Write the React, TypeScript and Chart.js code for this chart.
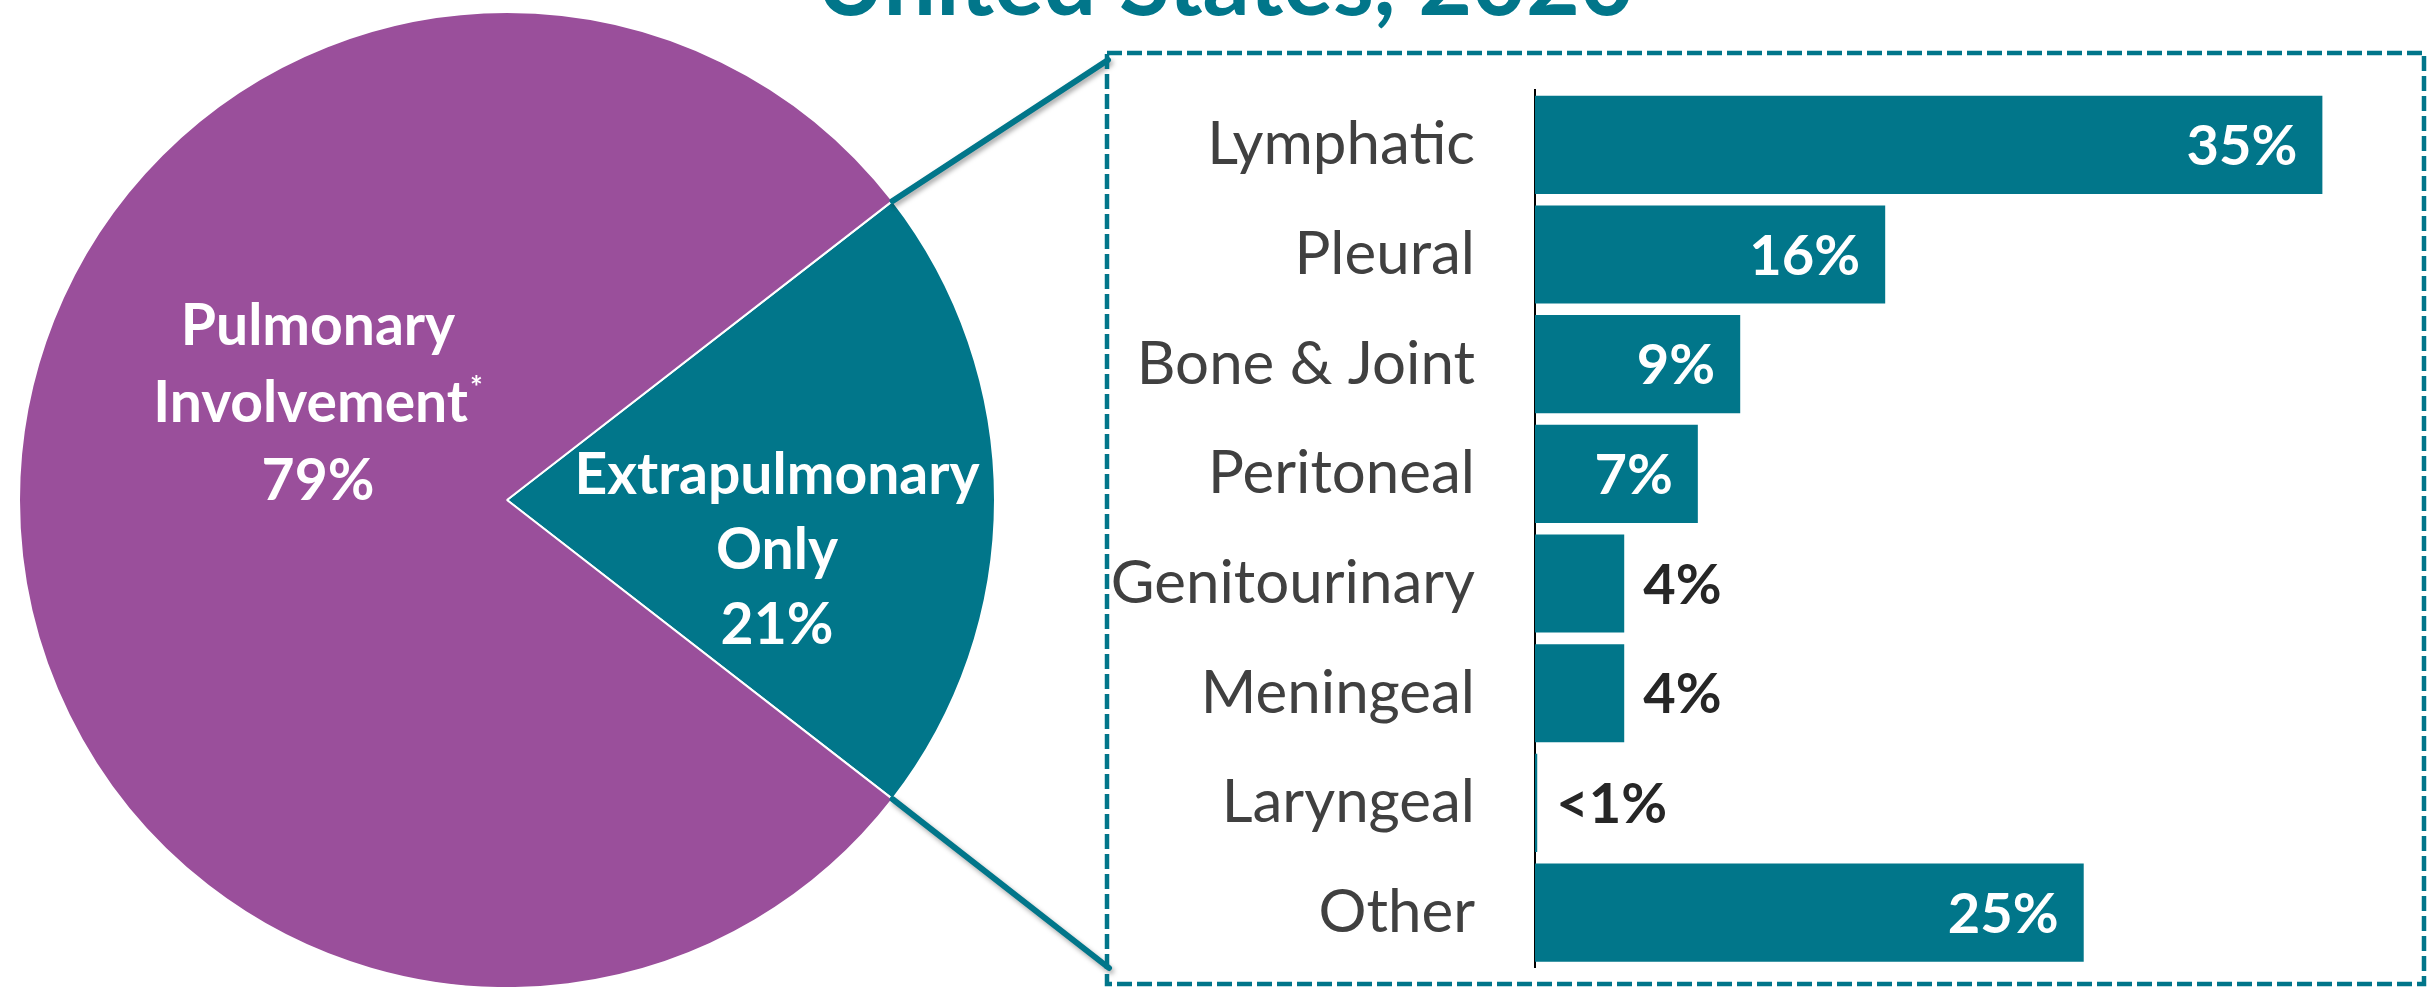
import React, { useEffect, useRef } from "react";
import { Chart, registerables } from "chart.js";

Chart.register(...registerables);

const FONT = "Lato, 'Open Sans', sans-serif";
const TEAL = "#01768A";
const PURPLE = "#9A4F9B";

const titleText = "United States, 2020";

const pieLabels = ["Extrapulmonary Only", "Pulmonary Involvement"];
const pieValues = [21, 79];
const pieColors = [TEAL, PURPLE];

const siteCategories = [
  "Lymphatic",
  "Pleural",
  "Bone & Joint",
  "Peritoneal",
  "Genitourinary",
  "Meningeal",
  "Laryngeal",
  "Other",
];
const siteValues = [35.3, 15.7, 9.2, 7.3, 4.0, 4.0, 0.1, 24.6];
const siteValueLabels = ["35%", "16%", "9%", "7%", "4%", "4%", "<1%", "25%"];

const W = 2427;
const H = 987;

const piePlugin = {
  id: "pieExtras",
  afterDatasetsDraw(chart: any) {
    const ctx = chart.ctx as CanvasRenderingContext2D;
    const meta = chart.getDatasetMeta(0);
    const arc = meta.data[0];
    const { x, y, startAngle, endAngle, outerRadius } = arc.getProps(
      ["x", "y", "startAngle", "endAngle", "outerRadius"],
      true
    );

    // slice labels
    ctx.save();
    ctx.fillStyle = "#ffffff";
    ctx.textBaseline = "alphabetic";
    ctx.font = `bold 57px ${FONT}`;
    ctx.textAlign = "center";
    const exX = x + 270;
    ctx.fillText("Extrapulmonary", exX, y - 6);
    ctx.fillText("Only", exX, y + 69);
    ctx.fillText(`${pieValues[0]}%`, exX, y + 144);

    const puX = x - 189;
    ctx.fillText("Pulmonary", puX, y - 155);
    ctx.fillText(`${pieValues[1]}%`, puX, y + 0);
    const w1 = ctx.measureText("Involvement").width;
    ctx.font = `bold 30px ${FONT}`;
    const w2 = ctx.measureText("*").width;
    const sx = puX - (w1 + w2 + 2) / 2;
    ctx.textAlign = "left";
    ctx.font = `bold 57px ${FONT}`;
    ctx.fillText("Involvement", sx, y - 78);
    ctx.font = `bold 30px ${FONT}`;
    ctx.fillText("*", sx + w1 + 2, y - 102);
    ctx.restore();

    // connector lines
    const p1 = { x: x + outerRadius * Math.cos(startAngle), y: y + outerRadius * Math.sin(startAngle) };
    const p2 = { x: x + outerRadius * Math.cos(endAngle), y: y + outerRadius * Math.sin(endAngle) };
    const boxL = 1107, boxT = 53, boxR = 2424, boxB = 984;
    ctx.save();
    ctx.strokeStyle = TEAL;
    ctx.lineWidth = 6;
    ctx.lineCap = "round";
    ctx.shadowColor = "rgba(0,0,0,0.35)";
    ctx.shadowBlur = 5;
    ctx.shadowOffsetX = 2;
    ctx.shadowOffsetY = 3;
    ctx.beginPath();
    ctx.moveTo(p1.x, p1.y);
    ctx.lineTo(boxL + 1, 60);
    ctx.moveTo(p2.x, p2.y);
    ctx.lineTo(boxL + 2, 968);
    ctx.stroke();
    ctx.restore();

    // dashed box
    ctx.save();
    ctx.strokeStyle = TEAL;
    ctx.lineWidth = 4.5;
    ctx.setLineDash([15, 5]);
    ctx.strokeRect(boxL, boxT, boxR - boxL, boxB - boxT);
    ctx.restore();

    // title (cut off at the top, as in the reference)
    ctx.save();
    ctx.fillStyle = TEAL;
    ctx.font = `bold 93px ${FONT}`;
    ctx.textAlign = "center";
    ctx.textBaseline = "alphabetic";
    ctx.fillText(titleText, 1225, 15);
    ctx.restore();
  },
};

const barLabelPlugin = {
  id: "barValueLabels",
  afterDatasetsDraw(chart: any) {
    const ctx = chart.ctx as CanvasRenderingContext2D;
    const meta = chart.getDatasetMeta(0);
    ctx.save();
    ctx.font = `bold 56px ${FONT}`;
    ctx.textBaseline = "alphabetic";
    meta.data.forEach((bar: any, i: number) => {
      const { x, y, base } = bar.getProps(["x", "y", "base"], true);
      const text = siteValueLabels[i];
      const tw = ctx.measureText(text).width;
      const len = x - base;
      const by = y + 20;
      if (len >= tw + 50) {
        ctx.fillStyle = "#ffffff";
        ctx.textAlign = "right";
        ctx.fillText(text, x - 25, by);
      } else {
        ctx.fillStyle = "#262626";
        ctx.textAlign = "left";
        ctx.fillText(text, x + 19, by);
      }
    });
    ctx.restore();
  },
};

export default function App() {
  const pieRef = useRef<HTMLCanvasElement>(null);
  const barRef = useRef<HTMLCanvasElement>(null);

  useEffect(() => {
    const pie = new Chart(pieRef.current!, {
      type: "pie",
      data: {
        labels: pieLabels,
        datasets: [
          {
            data: pieValues,
            backgroundColor: pieColors,
            borderColor: "#ffffff",
            borderWidth: 2,
            hoverOffset: 0,
          },
        ],
      },
      options: {
        responsive: false,
        animation: false,
        devicePixelRatio: 1,
        rotation: 90 - (pieValues[0] / 100) * 360 / 2,
        radius: 488,
        layout: { padding: { left: 19, right: W - 995, top: 13, bottom: 0 } },
        plugins: { legend: { display: false }, tooltip: { enabled: false }, title: { display: false } },
        events: [],
      } as any,
      plugins: [piePlugin],
    });

    const bar = new Chart(barRef.current!, {
      type: "bar",
      data: {
        labels: siteCategories,
        datasets: [
          {
            data: siteValues,
            backgroundColor: TEAL,
            borderWidth: 0,
            barPercentage: 0.895,
            categoryPercentage: 1,
          },
        ],
      },
      options: {
        indexAxis: "y",
        responsive: false,
        animation: false,
        devicePixelRatio: 1,
        events: [],
        layout: { padding: { top: 30, bottom: 12.6, right: 88, left: 0 } },
        plugins: { legend: { display: false }, tooltip: { enabled: false } },
        scales: {
          x: { display: false, min: 0, max: 36 },
          y: {
            grid: { display: false, drawTicks: false },
            border: { display: true, color: "#000000", width: 2 },
            ticks: {
              color: "#404040",
              font: { family: FONT, size: 60 },
              padding: 60,
              autoSkip: false,
            },
            afterFit(scale: any) {
              scale.width = 425;
              scale.paddingTop = 0;
              scale.paddingBottom = 0;
            },
          },
        },
      } as any,
      plugins: [barLabelPlugin],
    });

    return () => {
      pie.destroy();
      bar.destroy();
    };
  }, []);

  return (
    <div
      style={{
        position: "absolute",
        left: 0,
        top: 0,
        width: W,
        height: H,
        overflow: "hidden",
        background: "#ffffff",
      }}
    >
      <canvas
        ref={pieRef}
        width={W}
        height={H}
        style={{ position: "absolute", left: 0, top: 0, width: W, height: H, display: "block" }}
      />
      <canvas
        ref={barRef}
        width={1316}
        height={920}
        style={{ position: "absolute", left: 1110, top: 60, width: 1316, height: 920, display: "block" }}
      />
    </div>
  );
}
